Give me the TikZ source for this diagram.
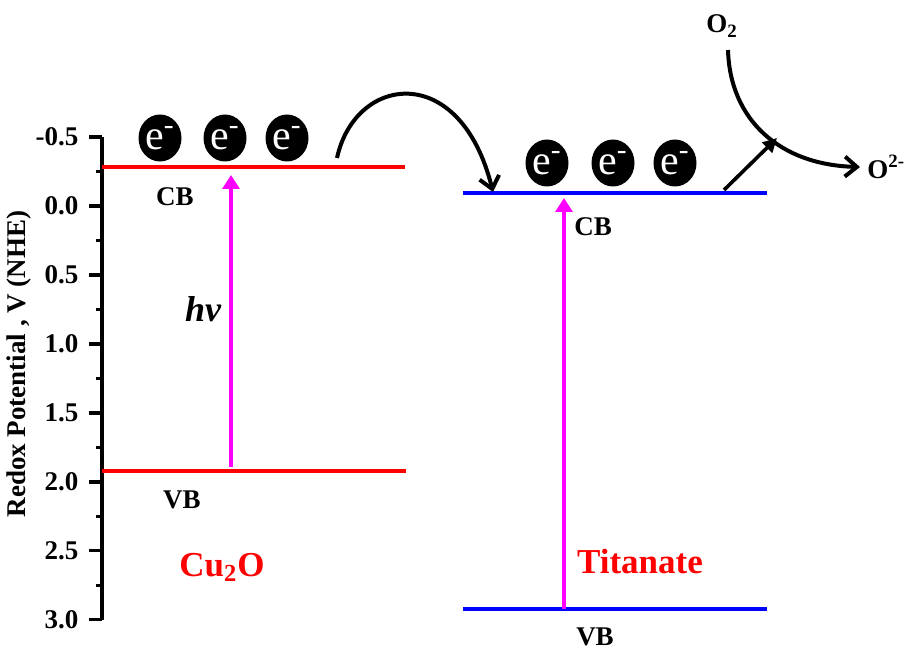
\documentclass[tikz,border=0pt]{standalone}
\usepackage{fontspec}
\setmainfont{Liberation Serif}
\usetikzlibrary{arrows.meta, shapes.geometric}

\definecolor{pinkarrow}{RGB}{255,0,255}

\tikzset{
    axis/.style={line width=1.7pt},
    cuband/.style={line width=1.6pt, red},
    tiband/.style={line width=1.6pt, blue},
    excite/.style={line width=1.6pt, pinkarrow, -{Triangle[length=7pt, width=8.5pt]}},
    hop/.style={line width=2pt, -{Straight Barb[length=6pt, width=10pt]}},
    elec/.style={ellipse, fill=black, text=white, minimum width=21.5pt, minimum height=23.5pt,
        inner sep=0pt, font=\fontsize{21}{21}\selectfont},
    lbl/.style={font=\fontsize{13.5}{16}\selectfont\bfseries},
    mat/.style={font=\fontsize{17.5}{20}\selectfont\bfseries, red}
}

\begin{document}
\begin{tikzpicture}[x=0.5pt, y=-0.5pt]
    \useasboundingbox (0,0) rectangle (909,652);

    % 绘制坐标轴
    \draw[axis] (102,137) -- (102,620);
    \foreach \v/\t in {-0.5/-0.5, 0/0.0, 0.5/0.5, 1/1.0, 1.5/1.5, 2/2.0, 2.5/2.5, 3/3.0}
        \draw[axis] (102,{206+137.9*\v}) -- (89,{206+137.9*\v})
            node[left, inner sep=4.5pt, font=\fontsize{13.5}{15}\selectfont\bfseries] {\t};
    \foreach \v in {-0.25,0.25,...,2.75}
        \draw[axis] (102,{206+137.9*\v}) -- (96,{206+137.9*\v});
    \node[lbl, rotate=90] (ylab) at (19,364) {Redox Potential , V (NHE)};

    % Cu2O 能带
    \coordinate (cucbL) at (102,167);
    \coordinate (cucbR) at (405,167);
    \coordinate (cuvbL) at (102,471);
    \coordinate (cuvbR) at (406,471);
    \draw[cuband] (cucbL) -- (cucbR);
    \draw[cuband] (cuvbL) -- (cuvbR);
    \node[lbl] (cucb) at (175,197) {CB};
    \node[lbl] (cuvb) at (182,500) {VB};
    \node[mat] (cu) at (222,567) {Cu\textsubscript{2}O};

    % 激发 hv
    \coordinate (hvS) at (231,467);
    \coordinate (hvE) at (231,175);
    \draw[excite] (hvS) -- (hvE);
    \node[font=\fontsize{18}{20}\selectfont\bfseries\itshape] (hv) at (203,309) {hv};

    % 钛酸盐能带
    \coordinate (ticbL) at (463,193);
    \coordinate (ticbR) at (767,193);
    \coordinate (tivbL) at (463,609);
    \coordinate (tivbR) at (767,609);
    \draw[tiband] (ticbL) -- (ticbR);
    \draw[tiband] (tivbL) -- (tivbR);
    \node[lbl] (ticb) at (593,227) {CB};
    \node[lbl] (tivb) at (595,637) {VB};
    \node[mat] (ti) at (640,562) {Titanate};
    \coordinate (tiS) at (564,609);
    \coordinate (tiE) at (564,198);
    \draw[excite] (tiS) -- (tiE);

    % 电子
    \foreach \x [count=\i] in {160,225,287}
        \node[elec] (ecu\i) at (\x,138) {e\textsuperscript{-}};
    \foreach \x [count=\i] in {547,613,675}
        \node[elec] (eti\i) at (\x,163) {e\textsuperscript{-}};

    % 电子转移
    \coordinate (hopS) at (337,158);
    \coordinate (hopE) at (493,192);
    \draw[hop] (hopS) .. controls (355,75) and (460,60) .. (hopE);

    % O2 还原
    \node[lbl] (o2) at (722,26) {O\textsubscript{2}};
    \node[lbl, anchor=west, inner sep=0pt] (o2m) at (867,167) {O\textsuperscript{2-}};
    \coordinate (o2S) at (728,50);
    \coordinate (o2E) at (860,167);
    \draw[hop] (o2S) .. controls (730,120) and (780,165) .. (o2E);
    \coordinate (redS) at (724,190);
    \coordinate (redE) at (777,138);
    \draw[line width=1.8pt, -{Triangle[length=7pt, width=7pt]}] (redS) -- (redE);
\end{tikzpicture}
\end{document}
